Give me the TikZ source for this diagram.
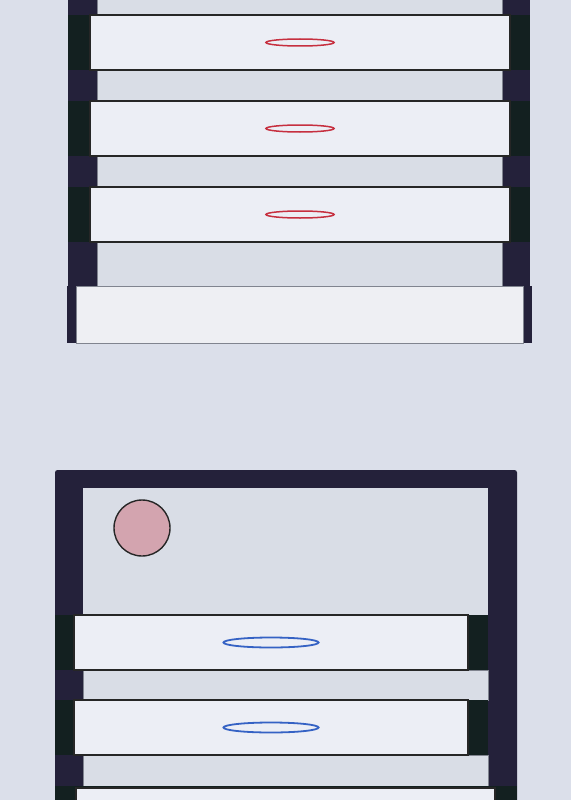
\documentclass[tikz,border=0pt]{standalone}
\definecolor{bgc}{HTML}{DBDFEA}
\definecolor{gapfill}{HTML}{D9DDE6}
\definecolor{panelfill}{HTML}{ECEEF5}
\definecolor{darkcol}{HTML}{24213A}
\definecolor{darkgreen}{HTML}{132020}
\definecolor{basefill}{HTML}{EEEFF3}
\definecolor{circlefill}{HTML}{D3A4AF}
\definecolor{redring}{HTML}{C62F3F}
\definecolor{bluering}{HTML}{3562C4}
\definecolor{edgegray}{HTML}{80848F}
\tikzset{
  gapbox/.style={fill=gapfill, draw=edgegray, line width=0.8pt},
  panelbox/.style={fill=panelfill, draw=black!85, line width=1.4pt},
  basebox/.style={fill=basefill, draw=edgegray, line width=0.8pt},
  redell/.style={draw=redring, line width=1.5pt},
  blueell/.style={draw=bluering, line width=1.8pt},
}
\begin{document}
\begin{tikzpicture}[x=1pt,y=-1pt]
\useasboundingbox (0,0) rectangle (571,800);
\clip (0,0) rectangle (571,800);
\fill[bgc] (0,0) rectangle (571,800);
% ---------- top unit ----------
\fill[darkcol] (68,-5) rectangle (97,286);
\fill[darkcol] (502,-5) rectangle (530,286);
\draw[gapbox] (97,-5) rectangle (502,15);
\draw[gapbox] (97,70) rectangle (502,101);
\draw[gapbox] (97,156) rectangle (502,187);
\draw[gapbox] (97,241) rectangle (502,286);
\foreach \y in {15,101,187}{
  \fill[darkgreen] (68,\y) rectangle (530,\y+55);
  \draw[panelbox] (90,\y) rectangle (510,\y+55);
  \draw[redell] (300,\y+27.5) ellipse (34 and 3.5);
}
\fill[darkcol] (67,286) rectangle (532,343);
\draw[basebox] (76,286) rectangle (523,343);
% ---------- bottom unit ----------
\fill[darkcol, rounded corners=2.5pt] (55,470) rectangle (517,830);
\fill[gapfill] (83,488) rectangle (488,615);
\draw[fill=circlefill, draw=black!85, line width=1.4pt] (142,528) circle (28);
\draw[gapbox] (83,670) rectangle (488,700);
\draw[gapbox] (83,755) rectangle (488,786);
\foreach \y in {615,700}{
  \fill[darkgreen] (55,\y) rectangle (488,\y+55);
  \draw[panelbox] (74,\y) rectangle (468,\y+55);
  \draw[blueell] (271,\y+27.5) ellipse (47.5 and 5);
}
\fill[darkgreen] (55,786) rectangle (517,830);
\draw[panelbox] (76,788) rectangle (495,830);
\end{tikzpicture}
\end{document}
